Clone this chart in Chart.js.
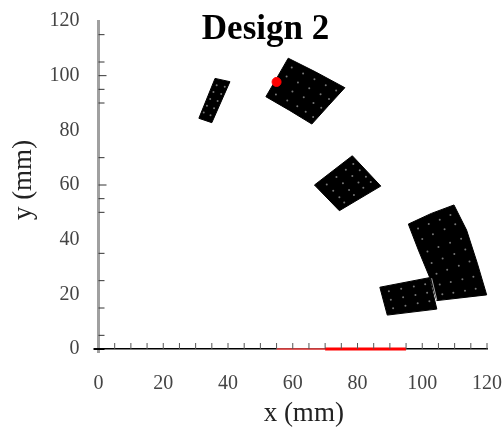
<!DOCTYPE html>
<html>
<head>
<meta charset="utf-8">
<script src="https://cdn.jsdelivr.net/npm/chart.js@4"></script>
<style>
html,body{margin:0;padding:0;background:#fff}
canvas{display:block;filter:blur(0.5px)}
</style>
</head>
<body>
<canvas id="c" width="503" height="429"></canvas>
<script>
const titleText = 'Design 2';
const xTitle = 'x (mm)';
const yTitle = 'y (mm)';
const xMinorTicks = [5,10,15,20,25,30,35,40,45,50,55,60,65,70,75,80,85,90,95,100,105,110,115,120];
const yMinorTicks = [5,15,25,35,50,55,70,90,95,105,115];
const yLongTicks = [60,100];

const patchA = [[36,99],[40.6,97.8],[35,82.8],[31,84.4],[36,99]];
const patchB = [[58.6,106.4],[67,101.4],[76.1,95.6],[71,89],[65.9,82.3],[59,87.3],[51.7,92.3],[55,99],[58.6,106.4]];
const patchC = [[78.4,70.7],[87.2,59.6],[74.4,50.6],[66.7,60],[78.4,70.7]];
const patchD = [[95.7,45.7],[102.8,49.6],[109.8,52.7],[113.7,43.5],[117,31.4],[119.9,19.8],[104.5,17.7],[102.4,25.9],[98.8,36.2],[95.7,45.7]];
const patchF = [[86.9,22.6],[102.2,26.1],[104.5,14.6],[89.2,12.4],[86.9,22.6]];
const sliver = [[102.9,25.9],[104.5,17.9]];

const specks = [
 [36.5,96.5],[35.5,94],[34.5,91.5],[33.5,89],[32.5,86.5],[39,95.9],[37.9,93.3],[36.8,90.7],[35.7,88.1],[34.6,85.5],
 [59.7,103],[63.2,100.8],[66.7,98.7],[70.2,96.5],[73.4,94.6],[58.1,99.7],[61.6,97.5],[65.1,95.4],[68.6,93.2],[71.2,91.5],
 [59.9,94.2],[63.4,92.1],[66.4,90],[68.8,88.3],[54.8,93.1],[58.3,90.9],[61.4,88.8],[64,86.8],[66.3,84.9],
 [70.5,60.2],[73.5,62.9],[76.4,65.6],[78.7,67.7],[72.5,57.9],[75.5,60.6],[78.4,63.3],[80.7,65.4],
 [74.4,55.5],[77.4,58.2],[80.3,60.9],[82.6,63],[75.9,53.6],[78.9,56.3],[81.8,59],[84.1,61.1],
 [89.7,21.1],[93.5,22],[97.4,22.9],[100.9,23.7],[90.3,18],[94.1,18.9],[97.9,19.8],[101.5,20.6],[91,14.9],[94.8,15.8],[98.6,16.7],[102.2,17.5],
 [98.7,44.1],[102,45.7],[105.4,47.3],[108.7,49],[100,40.2],[103.3,42],[106.9,43.8],[110.2,45.6],
 [101.6,35.7],[105,37.3],[108.6,38.9],[112,40.3],[102.9,31.5],[106.3,33.1],[109.9,34.8],[113.3,36.4],
 [104.4,27.5],[107.7,29],[111.3,30.5],[114.6,32],[105.4,23.6],[108.8,24.5],[112.4,25.5],[115.8,26.4],
 [106.2,20],[109.6,20.6],[113.2,21.3],[116.5,22]
];
const redDot = [[55,97.7]];
const redThin = [[55,0],[70,0]];
const redThick = [[70,0],[95,0]];

const pts = a => a.map(p => ({x:p[0], y:p[1]}));
const patch = a => ({data:pts(a), showLine:true, fill:'shape', backgroundColor:'#000', borderColor:'#000', borderWidth:1, pointRadius:0, tension:0, clip:false});
const shiftTitle = (scale,dx,dy) => {
  if (scale._shifted) return;
  scale._shifted = true;
  const base = scale.drawTitle;
  scale.drawTitle = function(){
    const s=[this.left,this.right,this.top,this.bottom];
    this.left+=dx; this.right+=dx; this.top+=dy; this.bottom+=dy;
    base.call(this);
    [this.left,this.right,this.top,this.bottom]=s;
  };
};
const noPad = s => { s.paddingLeft=0; s.paddingRight=0; s.paddingTop=0; s.paddingBottom=0; };

const tickPlugin = {
  id:'innerTicks',
  afterLayout(chart){
    const t = chart.titleBlock;
    t.left = 0; t.right = 531; t.top = 19; t.bottom = 40;
  },
  afterDatasetsDraw(chart){
    const {ctx, scales:{x,y}} = chart;
    const x0 = x.getPixelForValue(0), y0 = y.getPixelForValue(0);
    const seg = (a,b,c,d,w,col) => {ctx.beginPath();ctx.moveTo(a,b);ctx.lineTo(c,d);ctx.lineWidth=w;ctx.strokeStyle=col;ctx.stroke();};
    ctx.save();
    seg(x0,y0,x0,y0+4,3,'#a0a0a0');
    xMinorTicks.forEach(v => {const p=x.getPixelForValue(v); seg(p,y0,p,y0-6,1,'#555');});
    yMinorTicks.forEach(v => {const p=y.getPixelForValue(v); seg(x0,p,x0+6,p,1,'#333');});
    yLongTicks.forEach(v => {const p=y.getPixelForValue(v); seg(x0,p,x0+8,p,1,'#333');});
    seg(x0-5,y0,x0+6,y0,2,'#000');
    ctx.restore();
  }
};

new Chart(document.getElementById('c'), {
  type:'scatter',
  data:{datasets:[
    {label:'red dot', data:pts(redDot), backgroundColor:'#ff0000', borderColor:'#ff0000', pointRadius:4.5, clip:false, order:0},
    {label:'specks', data:pts(specks), backgroundColor:'#777', pointRadius:1, pointBorderWidth:0, clip:false, order:1},
    {...patch(sliver), fill:false, borderColor:'#aaa', order:2},
    {...patch(patchF), order:3},
    {...patch(patchA), order:4},
    {...patch(patchB), order:4},
    {...patch(patchC), order:4},
    {...patch(patchD), order:4},
    {data:pts(redThin), showLine:true, borderColor:'#ff5050', borderWidth:1.5, pointRadius:0, clip:false, order:0},
    {data:pts(redThick), showLine:true, borderColor:'#ff0000', borderWidth:3, pointRadius:0, clip:false, order:0}
  ]},
  plugins:[tickPlugin],
  options:{
    responsive:false,
    animation:false,
    layout:{padding:{left:0,right:16,top:0,bottom:0}},
    plugins:{
      legend:{display:false},
      tooltip:{enabled:false},
      title:{display:true,text:titleText,color:'#000',padding:0,
        font:{family:'"Liberation Serif"',size:35,weight:'bold',lineHeight:21/35}}
    },
    scales:{
      x:{type:'linear',min:0,max:120,
        afterFit(s){s.height=80; noPad(s); shiftTitle(s,11,-2);},
        border:{color:'#000',width:1.5},
        grid:{drawOnChartArea:false,drawTicks:false},
        ticks:{stepSize:20,padding:23,maxRotation:0,color:'#444',font:{family:'"Liberation Serif"',size:20}},
        title:{display:true,text:xTitle,color:'#222',padding:{top:0,bottom:0},font:{family:'"Liberation Serif"',size:27,lineHeight:1}}
      },
      y:{type:'linear',min:0,max:120,
        afterFit(s){s.width=98.5; noPad(s); shiftTitle(s,0,-5);},
        border:{color:'#a0a0a0',width:3},
        grid:{drawOnChartArea:false,drawTicks:false},
        ticks:{stepSize:20,padding:19,color:'#444',font:{family:'"Liberation Serif"',size:20}},
        title:{display:true,text:yTitle,color:'#222',padding:{top:8,bottom:0},font:{family:'"Liberation Serif"',size:27,lineHeight:1.2}}
      }
    }
  }
});
</script>
</body>
</html>
